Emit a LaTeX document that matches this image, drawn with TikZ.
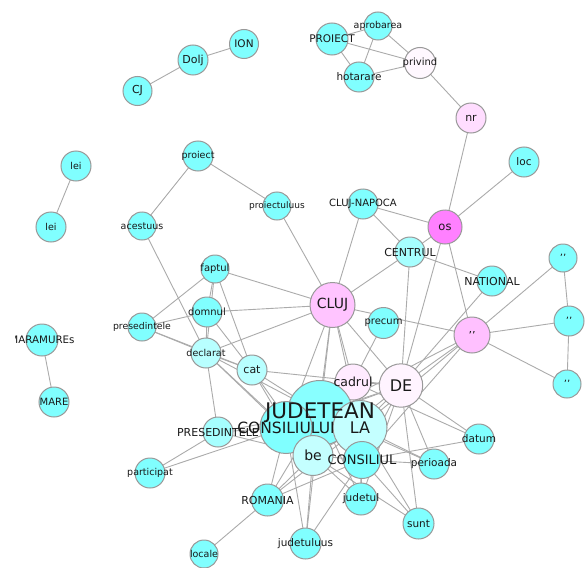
\documentclass[tikz,border=0pt]{standalone}
\usepackage{fontspec}
\setmainfont{DejaVu Sans}
\pgfdeclarelayer{bg}
\pgfsetlayers{bg,main}
\definecolor{cy}{HTML}{80FFFF}
\definecolor{cyb}{HTML}{A6FFFF}
\definecolor{cyc}{HTML}{B8FFFF}
\definecolor{cyd}{HTML}{C4FFFF}
\definecolor{cyj}{HTML}{88FFFF}
\definecolor{pkos}{HTML}{FF80FF}
\definecolor{pkcl}{HTML}{FFC4FF}
\definecolor{pkq}{HTML}{FFC0FF}
\definecolor{pknr}{HTML}{FFDDFF}
\definecolor{pkcad}{HTML}{FFEBFF}
\definecolor{pkde}{HTML}{FFF4FF}
\definecolor{pkpr}{HTML}{FFF8FF}
\definecolor{ncol}{HTML}{999999}
\definecolor{ecol}{HTML}{ABABAB}
\newcommand\GN[5]{\node[gnode,fill=#5,minimum size=#4*2pt] (#1) at (#2,#3) {};}
\newcommand\LB[3]{\node[font=\fontsize{#2}{#2}\selectfont,text=black!90] at (#1) {#3};}
\begin{document}
\begin{tikzpicture}[x=1pt,y=-1pt,
  gnode/.style={circle,draw=ncol,line width=1pt,inner sep=0pt},
  edge/.style={draw=ecol,line width=0.9pt}]
\useasboundingbox (0,0) rectangle (585,567);
\begin{pgfonlayer}{bg}
\fill[white] (0,0) rectangle (585,567);
\end{pgfonlayer}
% nodes (circles)
\GN{cj}{137.5}{91}{14.5}{cy}
\GN{dolj}{193}{60}{15}{cy}
\GN{ion}{244}{44}{14.5}{cy}
\GN{proiectU}{332}{39}{16}{cy}
\GN{aprob}{378}{26}{14}{cy}
\GN{hotar}{359}{77}{15}{cy}
\GN{privind}{420}{63}{15.5}{pkpr}
\GN{nr}{471}{118}{15}{pknr}
\GN{lei1}{76}{166}{15}{cy}
\GN{lei2}{51}{227}{15}{cy}
\GN{acest}{142}{226}{14}{cy}
\GN{proiect}{198}{156}{15}{cy}
\GN{proiectul}{277}{206}{14}{cy}
\GN{clujnap}{363}{204}{15}{cy}
\GN{centrul}{410}{252}{15}{cyb}
\GN{os}{445}{227}{17}{pkos}
\GN{loc}{524}{162}{15}{cy}
\GN{national}{492}{281}{15}{cy}
\GN{qa}{563}{258}{14}{cy}
\GN{qb}{569}{321}{15}{cy}
\GN{qc}{567}{384}{14}{cy}
\GN{pq}{472}{335}{18}{pkq}
\GN{precum}{383.5}{323}{15.5}{cy}
\GN{cluj}{332.5}{305}{22.5}{pkcl}
\GN{faptul}{215}{269}{14}{cy}
\GN{domnul}{207}{312}{15}{cy}
\GN{declarat}{206}{353}{15}{cyc}
\GN{cat}{252}{370}{15}{cyc}
\GN{presed}{142}{327}{14}{cy}
\GN{maram}{42}{340}{16}{cy}
\GN{mare}{54}{402}{15}{cy}
\GN{presU}{218}{432}{15}{cyb}
\GN{particip}{150}{473}{15}{cy}
\GN{locale}{204}{554}{14}{cy}
\GN{romania}{267.5}{500}{16}{cy}
\GN{judetuluus}{305.5}{543.5}{15.5}{cy}
\GN{judetul}{361}{499}{16}{cy}
\GN{sunt}{418.5}{523.5}{15.5}{cy}
\GN{perioada}{434}{464}{15}{cy}
\GN{datum}{479}{439}{15}{cy}
\GN{cadrul}{353}{382}{18}{pkcad}
\GN{de}{401}{385.5}{21.7}{pkde}
\GN{judetean}{320}{413}{32.5}{cyj}
\GN{consiliului}{286}{427.5}{26}{cy}
\GN{la}{360}{427.5}{27}{cyd}
\GN{be}{313}{455.5}{20}{cyd}
\GN{consiliul}{362}{460}{18.5}{cy}
% edges
\begin{pgfonlayer}{bg}
\foreach \a/\b in {cj/dolj, dolj/ion, lei1/lei2, maram/mare,
 proiectU/aprob, proiectU/hotar, proiectU/privind, aprob/hotar, aprob/privind, hotar/privind, privind/nr, nr/os,
 os/loc, os/clujnap, os/centrul, os/de, os/pq,
 pq/qa, pq/qb, pq/qc, qa/qb, qb/qc,
 pq/cluj, pq/de, pq/la, pq/judetean, pq/consiliul,
 clujnap/centrul, clujnap/cluj,
 centrul/cluj, centrul/national, centrul/de, national/de,
 proiect/proiectul, proiect/acest, proiectul/cluj, acest/declarat,
 faptul/presed, faptul/domnul, faptul/declarat, faptul/cat, faptul/cluj,
 domnul/presed, domnul/cluj, domnul/declarat, domnul/cat,
 declarat/presed, declarat/cluj, declarat/cat, declarat/presU, declarat/judetean, declarat/consiliului, declarat/be,
 presed/cat,
 cat/de, cat/judetean, cat/consiliului, cat/be,
 presU/particip, presU/consiliului, presU/judetean, presU/be,
 particip/consiliului,
 romania/locale, romania/be, romania/consiliului, romania/judetean, romania/la, romania/consiliul,
 judetuluus/be, judetuluus/consiliului, judetuluus/consiliul, judetuluus/judetean,
 judetul/consiliul, judetul/be, judetul/judetean, judetul/la,
 sunt/de, sunt/be, sunt/la, sunt/consiliul,
 perioada/de, perioada/consiliul, perioada/la, perioada/judetean,
 datum/de, datum/cadrul, datum/consiliul,
 de/cluj, de/cadrul, de/la, de/judetean, de/consiliului, de/be, de/consiliul, de/judetul,
 cadrul/cluj, cadrul/precum, cadrul/judetean, cadrul/la, cadrul/be, cadrul/consiliului,
 cluj/judetean, cluj/consiliului, cluj/la, cluj/be,
 judetean/consiliului, judetean/la, judetean/be, consiliului/la, consiliului/be, la/be, la/consiliul, be/consiliul}
 \draw[edge] (\a.center) -- (\b.center);
\end{pgfonlayer}
% labels
\LB{cj}{11}{CJ}
\LB{dolj}{11}{Dolj}
\LB{ion}{10.5}{ION}
\LB{proiectU}{10.5}{PROIECT}
\LB{aprob}{9.5}{aprobarea}
\LB{hotar}{10.5}{hotarare}
\LB{privind}{10}{privind}
\LB{nr}{11}{nr}
\LB{lei1}{9.5}{lei}
\LB{lei2}{9.5}{lei}
\LB{acest}{9.5}{acestuus}
\LB{proiect}{9.5}{proiect}
\LB{proiectul}{9}{proiectuluus}
\LB{clujnap}{10}{CLUJ-NAPOCA}
\LB{centrul}{11}{CENTRUL}
\LB{os}{11.5}{os}
\LB{loc}{10.5}{loc}
\LB{national}{11}{NATIONAL}
\LB{qa}{10}{’’}
\LB{qb}{10}{’’}
\LB{qc}{10}{’’}
\LB{pq}{11}{’’}
\LB{precum}{10}{precum}
\LB{cluj}{14}{CLUJ}
\LB{faptul}{10}{faptul}
\LB{domnul}{10}{domnul}
\LB{declarat}{9.5}{declarat}
\LB{cat}{11}{cat}
\LB{presed}{9.3}{presedintele}
\begin{scope}
\clip (15,0) rectangle (585,567);
\LB{maram}{10.3}{MARAMUREs}
\end{scope}
\LB{mare}{10}{MARE}
\LB{presU}{11}{PRESEDINTELE}
\LB{particip}{9.5}{participat}
\LB{locale}{9.5}{locale}
\LB{romania}{11}{ROMANIA}
\LB{judetuluus}{10.5}{judetuluus}
\LB{judetul}{10.5}{judetul}
\LB{sunt}{10.5}{sunt}
\LB{perioada}{10.5}{perioada}
\LB{datum}{10.5}{datum}
\LB{cadrul}{12.5}{cadrul}
\LB{de}{16}{DE}
\LB{judetean}{21.5}{JUDETEAN}
\LB{consiliului}{15.5}{CONSILIULUI}
\LB{la}{16}{LA}
\LB{be}{14}{be}
\LB{consiliul}{13}{CONSILIUL}
\end{tikzpicture}
\end{document}
